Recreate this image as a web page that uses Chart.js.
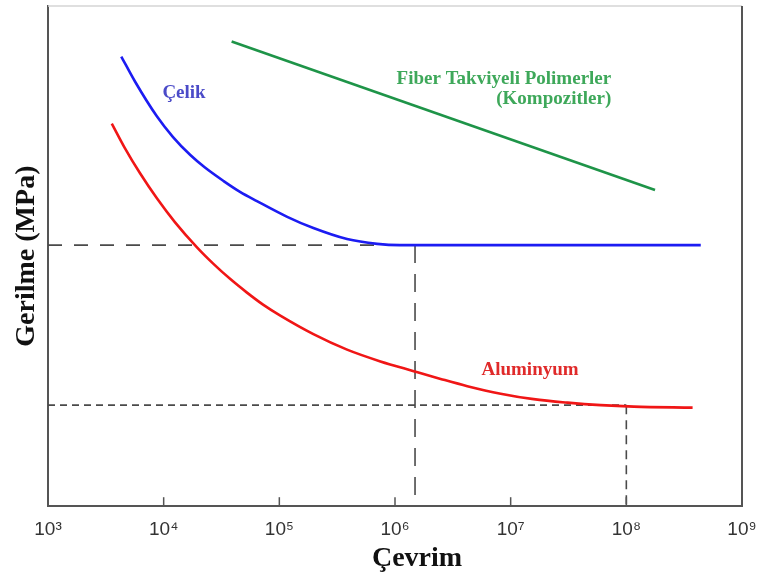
<!DOCTYPE html>
<html>
<head>
<meta charset="utf-8">
<script src="https://cdn.jsdelivr.net/npm/chart.js@4.4.0/dist/chart.umd.min.js"></script>
<style>
  html, body { margin: 0; padding: 0; background: #fff; }
</style>
</head>
<body>
<canvas id="grafico" width="757" height="572"></canvas>
<script>
// Değerler (y ekseni birimsiz, 0-100 arası)
var celik_cevrim  = [4300, 5650, 8700, 12050, 17000, 22750, 33000, 45700, 64000, 117000, 197000, 385000,
                     700000, 1100000, 1e7, 4.4e8];
var celik_gerilme = [89.9, 84.9, 78.0, 73.8, 70.2, 67.7, 65.0, 62.85, 61.0, 57.85, 55.6, 53.4,
                     52.45, 52.2, 52.2, 52.2];

var alu_cevrim  = [3560, 4620, 6250, 8770, 12500, 19500, 26800, 37700, 52500, 72300, 102000, 197000, 385000,
                   748000, 1450000, 2480000, 4220000, 8190000, 1.58e7, 3.1e7, 6.0e7, 1.16e8, 3.74e8];
var alu_gerilme = [76.5, 71.6, 66.55, 61.5, 56.8, 51.7, 48.5, 45.4, 42.7, 40.3, 38.1, 34.4, 31.3,
                   28.95, 27.0, 25.45, 24.0, 22.5, 21.4, 20.7, 20.2, 19.9, 19.7];

var fiber_cevrim  = [38700, 1.77e8];
var fiber_gerilme = [92.9, 63.2];

// yorulma sınırları (kesikli çizgiler)
var celik_sinir = 52.2, celik_diz = 1.49e6;
var alu_sinir   = 20.2, alu_diz   = 1e8;

var eksen_degerleri  = [1e3, 1e4, 1e5, 1e6, 1e7, 1e8, 1e9];
var eksen_etiketleri = ['10³', '10⁴', '10⁵', '10⁶', '10⁷', '10⁸', '10⁹'];

function seri(xs, ys) {
  return xs.map(function (x, i) { return { x: x, y: ys[i] }; });
}

function kesikli(puntos, dash, orden) {
  return {
    data: puntos, borderColor: '#4a4a4a', borderWidth: 1.6, borderDash: dash,
    pointRadius: 0, tension: 0, order: orden
  };
}

var etiketler = [
  { text: 'Çelik', x: 15000, y: 82.6, color: '#4b4bc8', align: 'center' },
  { text: 'Fiber Takviyeli Polimerler', x: 7.4e7, y: 85.4, color: '#3ea85a', align: 'right' },
  { text: '(Kompozitler)', x: 7.4e7, y: 81.4, color: '#3ea85a', align: 'right' },
  { text: 'Aluminyum', x: 1.47e7, y: 27.2, color: '#e02a2a', align: 'center' }
];

var dibujos_extra = {
  id: 'dibujos_extra',
  afterDraw: function (chart) {
    var ctx = chart.ctx, a = chart.chartArea, sx = chart.scales.x, sy = chart.scales.y;
    ctx.save();

    // çerçeve: üst açık gri, sağ koyu
    ctx.strokeStyle = '#d4d4d4'; ctx.lineWidth = 1.5;
    ctx.beginPath(); ctx.moveTo(a.left, a.top); ctx.lineTo(a.right, a.top); ctx.stroke();
    ctx.strokeStyle = '#555'; ctx.lineWidth = 2;
    ctx.beginPath(); ctx.moveTo(a.right, a.top); ctx.lineTo(a.right, a.bottom); ctx.stroke();

    // içe dönük tik işaretleri
    ctx.lineWidth = 1.5;
    eksen_degerleri.forEach(function (v) {
      var px = sx.getPixelForValue(v);
      ctx.beginPath(); ctx.moveTo(px, a.bottom); ctx.lineTo(px, a.bottom - 9); ctx.stroke();
    });

    // eğri etiketleri
    ctx.font = 'bold 19px "Liberation Serif", "Times New Roman", serif';
    ctx.textBaseline = 'middle';
    etiketler.forEach(function (e) {
      ctx.fillStyle = e.color;
      ctx.textAlign = e.align;
      ctx.fillText(e.text, sx.getPixelForValue(e.x), sy.getPixelForValue(e.y));
    });

    // eksen başlıkları
    ctx.fillStyle = '#111';
    ctx.font = 'bold 28px "Liberation Serif", "Times New Roman", serif';
    ctx.textAlign = 'center';
    ctx.textBaseline = 'alphabetic';
    ctx.fillText('Çevrim', 417, 566);

    ctx.translate(27, (a.top + a.bottom) / 2);
    ctx.rotate(-Math.PI / 2);
    ctx.textBaseline = 'middle';
    ctx.fillText('Gerilme (MPa)', 0, 0);

    ctx.restore();
  }
};

var chart_sn = new Chart(document.getElementById('grafico'), {
  type: 'line',
  data: {
    datasets: [
      { label: 'Çelik', data: seri(celik_cevrim, celik_gerilme), borderColor: '#1c1cf2', borderWidth: 2.6,
        pointRadius: 0, cubicInterpolationMode: 'monotone', order: 1 },
      { label: 'Aluminyum', data: seri(alu_cevrim, alu_gerilme), borderColor: '#f01616', borderWidth: 2.6,
        pointRadius: 0, cubicInterpolationMode: 'monotone', order: 1 },
      { label: 'Fiber Takviyeli Polimerler (Kompozitler)', data: seri(fiber_cevrim, fiber_gerilme),
        borderColor: '#1e9448', borderWidth: 2.6, pointRadius: 0, order: 1 },
      kesikli([{ x: eksen_degerleri[0], y: celik_sinir }, { x: celik_diz, y: celik_sinir }], [14, 12], 2),
      kesikli([{ x: celik_diz, y: celik_sinir }, { x: celik_diz, y: 0 }], [18, 11], 2),
      kesikli([{ x: eksen_degerleri[0], y: alu_sinir }, { x: alu_diz, y: alu_sinir }], [7, 5], 2),
      kesikli([{ x: alu_diz, y: alu_sinir }, { x: alu_diz, y: 0 }], [9, 6], 2)
    ]
  },
  options: {
    responsive: false,
    animation: false,
    devicePixelRatio: 1,
    layout: { padding: { left: 48, right: 15, top: 6, bottom: 19 } },
    plugins: { legend: { display: false }, tooltip: { enabled: false } },
    scales: {
      x: {
        type: 'logarithmic', min: 1e3, max: 1e9,
        afterBuildTicks: function (scale) {
          scale.ticks = eksen_degerleri.map(function (v) { return { value: v }; });
        },
        afterFit: function (scale) {
          scale.paddingLeft = 0;
          scale.paddingRight = 0;
        },
        ticks: {
          autoSkip: false, maxRotation: 0, padding: 12, color: '#333',
          font: { family: '"Liberation Sans", "DejaVu Sans", sans-serif', size: 19 },
          callback: function (v) {
            var i = eksen_degerleri.indexOf(v);
            return i >= 0 ? eksen_etiketleri[i] : '';
          }
        },
        grid: { display: false, drawTicks: false },
        border: { color: '#555', width: 2 }
      },
      y: {
        min: 0, max: 100,
        ticks: { display: false },
        grid: { display: false, drawTicks: false },
        border: { color: '#555', width: 2 }
      }
    }
  },
  plugins: [dibujos_extra]
});
</script>
</body>
</html>
